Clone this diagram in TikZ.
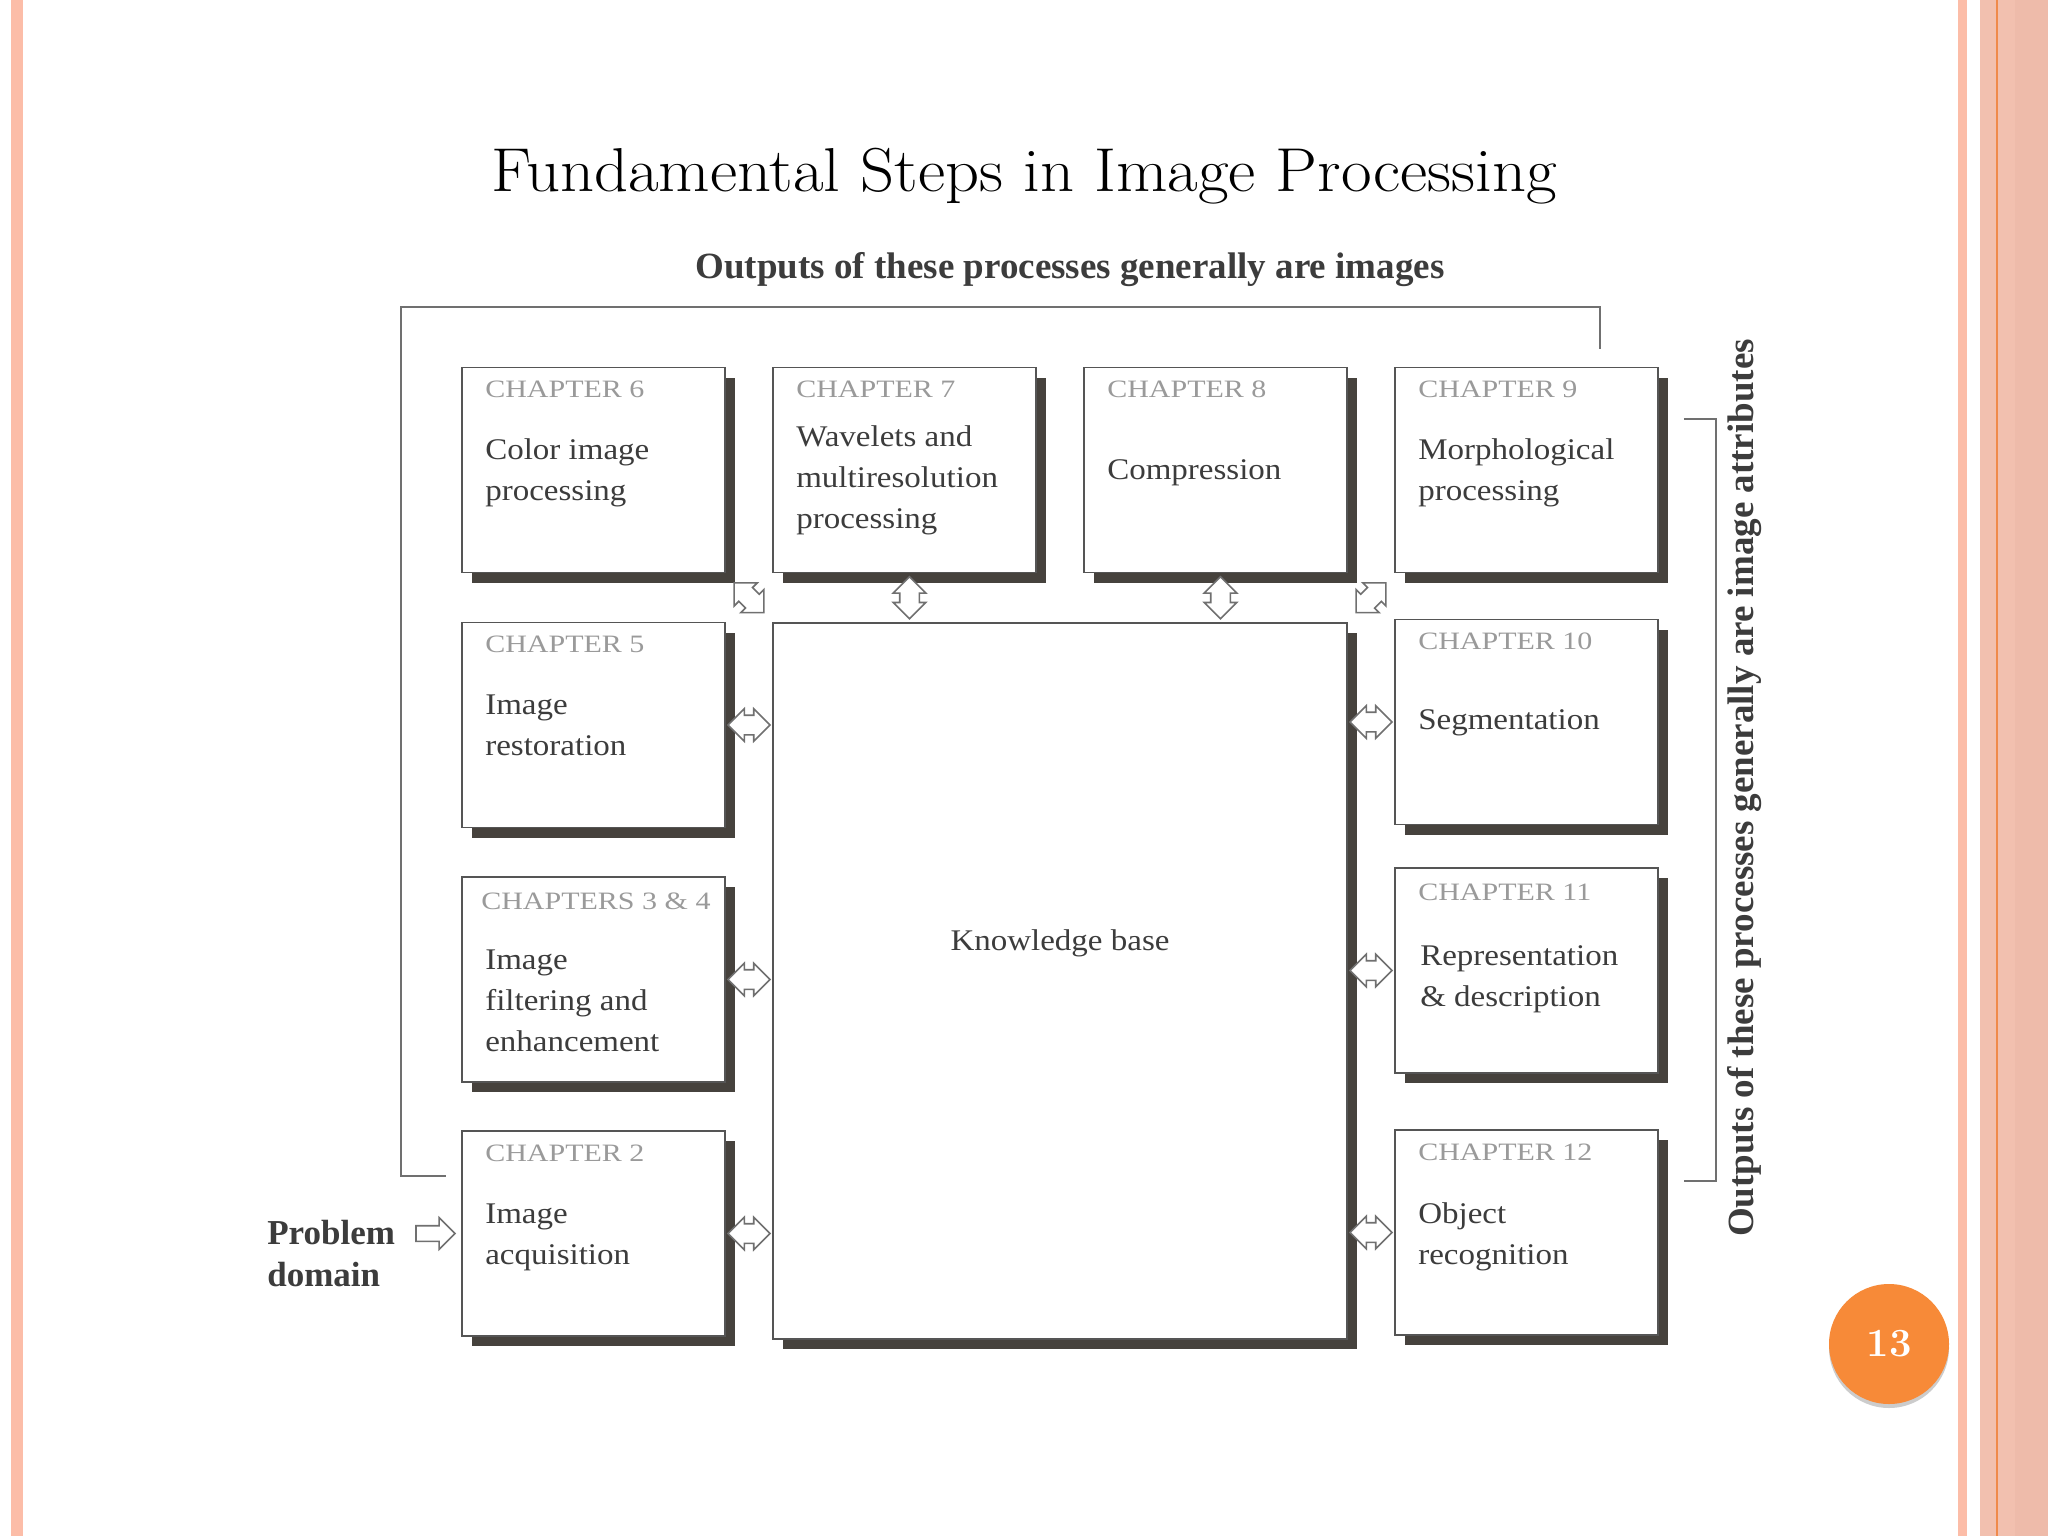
\documentclass[tikz,border=0pt]{standalone}
\usepackage{fontspec}
\usepackage{tikz}
\usetikzlibrary{shapes.arrows,positioning,calc,shadows}
\newfontfamily\bookfont[FakeStretch=1.1]{Liberation Serif}
\newfontfamily\chapfont[FakeStretch=1.2]{Liberation Serif}
\newfontfamily\headfont{Liberation Serif}
\definecolor{ink}{HTML}{3C3C3C}
\definecolor{greytxt}{HTML}{9A9A9A}
\definecolor{frame}{HTML}{555555}
\definecolor{shade}{HTML}{46423D}
\definecolor{wire}{HTML}{707070}
\definecolor{salmon}{HTML}{FCBDA8}
\definecolor{salmon2}{HTML}{F2C0AF}
\definecolor{salmon3}{HTML}{EEBBAA}
\definecolor{rim}{HTML}{F08A4B}
\definecolor{badge}{HTML}{F78A38}
\tikzset{
  chap/.style={rectangle, draw=frame, line width=1.8pt, fill=white,
               minimum width=263pt, minimum height=205pt, inner sep=0pt,
               drop shadow={shadow xshift=10pt, shadow yshift=-10pt,
                            fill=shade, opacity=1}},
  lab/.style={anchor=base west, inner sep=0pt, text=greytxt,
              font=\chapfont\fontsize{25}{28}\selectfont},
  txt/.style={anchor=base west, inner sep=0pt, align=left, text=ink,
              font=\bookfont\fontsize{30}{41}\selectfont},
  hd/.style={inner sep=0pt, text=ink,
             font=\headfont\bfseries\fontsize{37}{40}\selectfont},
  darr/.style={double arrow, draw=wire, line width=1.6pt, fill=white,
               inner sep=0pt, inner ysep=9pt, minimum height=42pt,
               double arrow head extend=6.5pt},
  sarr/.style={single arrow, draw=wire, line width=1.6pt, fill=white,
               inner sep=0pt, inner ysep=7pt, minimum height=39pt,
               single arrow head extend=8pt},
  fb/.style={draw=wire, line width=2pt},
}

\begin{document}
\begin{tikzpicture}[x=1pt, y=-1pt]
\useasboundingbox (0,0) rectangle (2048,1536);
\fill[white] (0,0) rectangle (2048,1536);

% --- slide frame --------------------------------------------------------
\fill[salmon] (11,0) rectangle (23,1536);
\fill[salmon] (1958,0) rectangle (1967,1536);
\fill[salmon2] (1980,0) rectangle (2048,1536);
\fill[salmon3] (2015,0) rectangle (2048,1536);
\draw[rim, line width=2pt] (1997,0) -- (1997,1536);

\node[font=\fontsize{62}{70}\selectfont, anchor=base, inner sep=0pt] (ttl) at (1024,191)
  {\scalebox{1.075}[1]{Fundamental Steps in Image Processing}};

% --- chapter boxes ------------------------------------------------------
\node[chap] (c6) at (593.5,470) {};
\node[chap] (c7) at (904.5,470) {};
\node[chap] (c8) at (1215.5,470) {};
\node[chap] (c9) at (1526.5,470) {};
\node[chap] (c5) at (593.5,725) {};
\node[chap] (c34) at (593.5,979.5) {};
\node[chap] (c2) at (593.5,1233.5) {};
\node[chap] (c10) at (1526.5,722) {};
\node[chap] (c11) at (1526.5,970.5) {};
\node[chap] (c12) at (1526.5,1232.5) {};
\node[chap, minimum width=574pt, minimum height=716pt] (kb) at (1060,981) {};

% base of a multi-line text is its last line
\node[lab] at ([shift={(24,31)}]c6.north west) {CHAPTER 6};
\node[txt] at ([shift={(24,134)}]c6.north west) {Color image\\processing};
\node[lab] at ([shift={(24,31)}]c7.north west) {CHAPTER 7};
\node[txt] at ([shift={(24,162)}]c7.north west) {Wavelets and\\multiresolution\\processing};
\node[lab] at ([shift={(24,31)}]c8.north west) {CHAPTER 8};
\node[txt] at ([shift={(24,113)}]c8.north west) {Compression};
\node[lab] at ([shift={(24,31)}]c9.north west) {CHAPTER 9};
\node[txt] at ([shift={(24,134)}]c9.north west) {Morphological\\processing};
\node[lab] at ([shift={(24,31)}]c5.north west) {CHAPTER 5};
\node[txt] at ([shift={(24,134)}]c5.north west) {Image\\restoration};
\node[lab] at ([shift={(20,33)}]c34.north west) {CHAPTERS 3 \& 4};
\node[txt] at ([shift={(24,175)}]c34.north west) {Image\\filtering and\\enhancement};
\node[lab] at ([shift={(24,31)}]c2.north west) {CHAPTER 2};
\node[txt] at ([shift={(24,134)}]c2.north west) {Image\\acquisition};
\node[lab] at ([shift={(24,31)}]c10.north west) {CHAPTER 10};
\node[txt] at ([shift={(24,111)}]c10.north west) {Segmentation};
\node[lab] at ([shift={(24,33)}]c11.north west) {CHAPTER 11};
\node[txt] at ([shift={(26,139)}]c11.north west) {Representation\\\& description};
\node[lab] at ([shift={(24,31)}]c12.north west) {CHAPTER 12};
\node[txt] at ([shift={(24,135)}]c12.north west) {Object\\recognition};
\node[txt, anchor=center] (kbt) at ([yshift=38pt]kb.center) {Knowledge base};

% --- links to the knowledge base ----------------------------------------
\node[darr, rotate=-45] (a6) at ($(c6.south east)!.5!(kb.north west)$) {};
\node[darr, rotate=90] (a7) at ($(c7.south)!.5!(c7.south |- kb.north)+(5,0)$) {};
\node[darr, rotate=90] (a8) at ($(c8.south)!.5!(c8.south |- kb.north)+(5,0)$) {};
\node[darr, rotate=45] (a9) at ($(c9.south west)!.5!(kb.north east)$) {};
\node[darr] (a5) at ($(c5.east)!.5!(c5.east -| kb.west)$) {};
\node[darr] (a34) at ($(c34.east)!.5!(c34.east -| kb.west)$) {};
\node[darr] (a2) at ($(c2.east)!.5!(c2.east -| kb.west)$) {};
\node[darr] (a10) at ($(c10.west)!.5!(c10.west -| kb.east)$) {};
\node[darr] (a11) at ($(c11.west)!.5!(c11.west -| kb.east)$) {};
\node[darr] (a12) at ($(c12.west)!.5!(c12.west -| kb.east)$) {};

% --- problem domain -----------------------------------------------------
\node[sarr, left=5pt of c2.west] (pdarr) {};
\node[hd, font=\headfont\bfseries\fontsize{35}{42}\selectfont, align=left,
      left=20pt of pdarr, yshift=-20pt] (pdom) {Problem\\domain};

% --- output brackets ----------------------------------------------------
\node[hd, anchor=base] (outimg) at (1070,278)
  {Outputs of these processes generally are images};
\coordinate (fbin) at ([shift={(73,-18)}]c9.north);
\coordinate (fbcorner) at (401,307);
\coordinate (fbout) at ([shift={(-15,46)}]c2.north west);
\draw[fb] (fbin) |- (fbcorner) |- (fbout);

\node[hd, rotate=90] (outattr) at (1745,788)
  {Outputs of these processes generally are image attributes};
\coordinate (brtop) at ([shift={(25,52)}]c9.north east);
\coordinate (brbot) at ([shift={(25,52)}]c12.north east);
\draw[fb] (brtop) -- ++(32,0) |- (brbot);

% --- page number --------------------------------------------------------
\node[circle, fill=badge, minimum size=120pt, text=white,
      font=\bfseries\fontsize{40}{44}\selectfont,
      drop shadow={shadow xshift=0pt, shadow yshift=-4pt, fill=black, opacity=.2}]
  (pg) at (1889,1344) {13};
\end{tikzpicture}
\end{document}
